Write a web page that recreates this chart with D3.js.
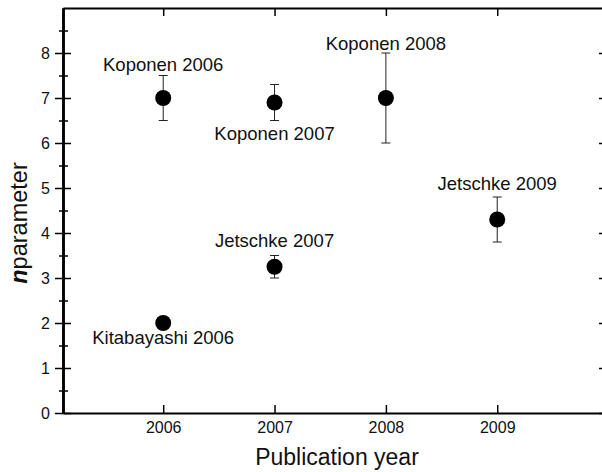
<!DOCTYPE html>
<html>
<head>
<meta charset="utf-8">
<script src="https://cdn.jsdelivr.net/npm/d3@7"></script>
<style>
  body { margin: 0; background: #fff; }
  svg { display: block; font-family: "Liberation Sans", Arial, sans-serif; }
</style>
</head>
<body>
<svg id="chart" width="602" height="472"></svg>
<script>
// data
const studies = ["Koponen 2006", "Kitabayashi 2006", "Koponen 2007", "Jetschke 2007", "Koponen 2008", "Jetschke 2009"];
const years = [2006, 2006, 2007, 2007, 2008, 2009];
const nValues = [7, 2, 6.9, 3.25, 7, 4.3];
const errHigh = [7.5, null, 7.3, 3.5, 8, 4.8];
const errLow = [6.5, null, 6.5, 3.0, 6, 3.8];
// where each study label sits, in n units
const labelAt = [7.61, 1.54, 6.06, 3.70, 8.06, 4.96];

const yearTicks = [2006, 2007, 2008, 2009];
const nTicks = [0, 1, 2, 3, 4, 5, 6, 7, 8];
const nMinorTicks = [0.5, 1.5, 2.5, 3.5, 4.5, 5.5, 6.5, 7.5, 8.5];

const svg = d3.select("#chart");

const mLeft = 63, mRight = 603, mTop = 8, mBottom = 413;

const x = d3.scaleLinear().domain([2005.1, 2009.95]).range([mLeft, mRight]);
const y = d3.scaleLinear().domain([0, 9]).range([mBottom, mTop]);

function styleAxis(g) {
    g.select(".domain").attr("stroke", "#000").attr("stroke-width", 2);
    g.selectAll(".tick line").attr("stroke", "#000").attr("stroke-width", 1.5);
    g.selectAll(".tick text").attr("fill", "#111").style("font-size", "16px");
}

// left axis: major ticks cross the line, minor ticks too (shorter)
svg.append("g")
    .attr("transform", `translate(${mLeft},0)`)
    .call(d3.axisLeft(y).tickValues(nTicks).tickSize(8).tickPadding(5).tickSizeOuter(0))
    .call(styleAxis)
    .call(g => g.selectAll(".tick text").attr("dy", "0.36em"));

svg.append("g")
    .attr("transform", `translate(${mLeft},0)`)
    .call(d3.axisRight(y).tickValues(nTicks).tickSize(8).tickFormat("").tickSizeOuter(0))
    .call(styleAxis);

svg.append("g")
    .attr("transform", `translate(${mLeft},0)`)
    .call(d3.axisLeft(y).tickValues(nMinorTicks).tickSize(4).tickFormat("").tickSizeOuter(0))
    .call(styleAxis);

svg.append("g")
    .attr("transform", `translate(${mLeft},0)`)
    .call(d3.axisRight(y).tickValues(nMinorTicks).tickSize(5).tickFormat("").tickSizeOuter(0))
    .call(styleAxis);

// right axis (mostly off-canvas)
svg.append("g")
    .attr("transform", `translate(${mRight},0)`)
    .call(d3.axisLeft(y).tickValues(nTicks).tickSize(4).tickFormat("").tickSizeOuter(0))
    .call(styleAxis);

// bottom axis, ticks pointing inward
svg.append("g")
    .attr("transform", `translate(0,${mBottom})`)
    .call(d3.axisBottom(x).tickValues(yearTicks).tickFormat(d3.format("d")).tickSize(-8).tickPadding(9).tickSizeOuter(0))
    .call(styleAxis);

// top axis, ticks pointing inward
svg.append("g")
    .attr("transform", `translate(0,${mTop})`)
    .call(d3.axisTop(x).tickValues(yearTicks).tickFormat("").tickSize(-8).tickSizeOuter(0))
    .call(styleAxis);

// error bars
const pts = studies.map((s, i) => ({ name: s, year: years[i], n: nValues[i], hi: errHigh[i], lo: errLow[i], lab: labelAt[i] }));

const bars = svg.append("g")
    .selectAll("g")
    .data(pts.filter(d => d.hi != null))
    .join("g")
    .attr("stroke", "#222")
    .attr("stroke-width", 1);

bars.append("line")
    .attr("x1", d => x(d.year)).attr("x2", d => x(d.year))
    .attr("y1", d => y(d.hi)).attr("y2", d => y(d.lo));
bars.append("line")
    .attr("x1", d => x(d.year) - 4.5).attr("x2", d => x(d.year) + 4.5)
    .attr("y1", d => y(d.hi)).attr("y2", d => y(d.hi));
bars.append("line")
    .attr("x1", d => x(d.year) - 4.5).attr("x2", d => x(d.year) + 4.5)
    .attr("y1", d => y(d.lo)).attr("y2", d => y(d.lo));

// points
svg.append("g")
    .selectAll("circle")
    .data(pts)
    .join("circle")
    .attr("cx", d => x(d.year))
    .attr("cy", d => y(d.n))
    .attr("r", 8)
    .attr("fill", "#000");

// study labels
svg.append("g")
    .selectAll("text")
    .data(pts)
    .join("text")
    .attr("x", d => x(d.year))
    .attr("y", d => y(d.lab))
    .attr("text-anchor", "middle")
    .style("font-size", "18.5px")
    .attr("fill", "#111")
    .text(d => d.name);

// axis titles
svg.append("text")
    .attr("x", 337)
    .attr("y", 465)
    .attr("text-anchor", "middle")
    .style("font-size", "23px")
    .attr("fill", "#111")
    .text("Publication year");

const yt = svg.append("text")
    .attr("transform", "translate(27,223) rotate(-90)")
    .attr("text-anchor", "middle")
    .style("font-size", "23.5px")
    .attr("fill", "#111");
yt.append("tspan").style("font-style", "italic").style("font-weight", "bold").text("n");
yt.append("tspan").text("parameter");
</script>
</body>
</html>
